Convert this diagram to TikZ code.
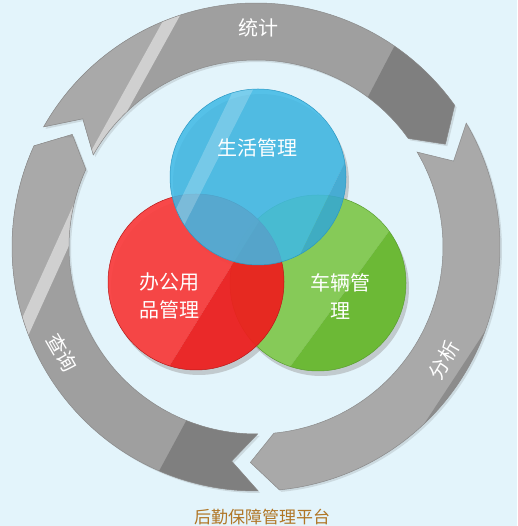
\documentclass[tikz,border=0pt]{standalone}
\usepackage{fontspec}
\newfontfamily\cjk{Noto Sans CJK SC}
\definecolor{bgc}{HTML}{E3F4FB}
\definecolor{gbase}{HTML}{9F9F9F}
\definecolor{glight}{HTML}{A9A9A9}
\definecolor{gstripe}{HTML}{D0D0D0}
\definecolor{gdark}{HTML}{7F7F7F}
\definecolor{gsliver}{HTML}{8C8C8C}
\definecolor{gline}{HTML}{8A8A8A}
\definecolor{blueL}{HTML}{3EB9E6}
\definecolor{blueD}{HTML}{34A8D4}
\definecolor{blueE}{HTML}{2A98C4}
\definecolor{redL}{HTML}{FA3C3C}
\definecolor{redD}{HTML}{EE1D1D}
\definecolor{redE}{HTML}{B81818}
\definecolor{greenL}{HTML}{86CA58}
\definecolor{greenD}{HTML}{6CB936}
\definecolor{greenE}{HTML}{5A9E30}
\definecolor{titlec}{RGB}{176,118,38}
\tikzset{
  ringseg/.style 2 args={shift={(256,279)}, insert path={(#1:244) arc[start angle=#1,end angle=#2,radius=244] -- ({#2-7}:215.5) -- (#2:187) arc[start angle=#2,end angle=#1,radius=187] -- ({#1-7}:215.5) -- cycle}},
  segline/.style={draw=gline, line width=0.5pt},
  segshadow/.style={fill=black!60, opacity=0.18},
  lbl/.style={text=white, font={\cjk\fontsize{20}{24}\selectfont}, inner sep=0pt},
  ctext/.style={text=white, font={\cjk\fontsize{20}{28}\selectfont}, inner sep=0pt, align=center},
  ttext/.style={text=titlec, font={\cjk\fontsize{17}{20}\selectfont}, inner sep=0pt},
  cshadow/.style={fill=black!40, opacity=0.45},
}
\begin{document}
\begin{tikzpicture}[x=1pt,y=1pt]
\useasboundingbox (0,0) rectangle (517,526);
\fill[bgc] (0,0) rectangle (517,526);

% ---- ring segment shadows
\begin{scope}[shift={(2,-2)}]
\fill[segshadow, ringseg={150.5}{35.5}];
\fill[segshadow, ringseg={30.5}{-84.5}];
\fill[segshadow, ringseg={270.5}{155.5}];
\end{scope}

% ---- top segment
\begin{scope}
\clip[ringseg={150.5}{35.5}];
\fill[gbase] (0,0) rectangle (517,526);
\fill[glight] (35.6,274.6) -- (192,557.5) -- (-10,557.5) -- (-10,274.6) -- cycle;
\fill[gstripe] (35.6,274.6) -- (192,557.5) -- (206,557.5) -- (49.6,274.6) -- cycle;
\fill[gdark] (320,337) -- (445,577) -- (600,577) -- (600,337) -- cycle;
\end{scope}
\draw[segline, ringseg={150.5}{35.5}];

% ---- right segment
\begin{scope}
\clip[ringseg={30.5}{-84.5}];
\fill[gbase!90!white] (0,0) rectangle (517,526);
\fill[gsliver] (359,3) -- (566,318) -- (600,318) -- (600,3) -- cycle;
\end{scope}
\draw[segline, ringseg={30.5}{-84.5}];

% ---- left segment
\begin{scope}
\clip[ringseg={270.5}{155.5}];
\fill[gbase] (0,0) rectangle (517,526);
\fill[glight] (-15,126) -- (104,388.5) -- (-50,388.5) -- (-50,126) -- cycle;
\fill[gstripe] (-15,126) -- (104,388.5) -- (118,388.5) -- (-1,126) -- cycle;
\fill[gdark] (131,3) -- (239,203) -- (400,203) -- (400,3) -- cycle;
\end{scope}
\draw[segline, ringseg={270.5}{155.5}];

% ---- circle shadows
\fill[cshadow] (321,238) circle (88);
\fill[cshadow] (199,239) circle (88);
\fill[cshadow] (261,344) circle (88);

% ---- green circle
\begin{scope}
\clip (318,243) circle (88);
\fill[greenL] (240,90.5) -- (440,364.5) -- (100,364.5) -- (100,90.5) -- cycle;
\fill[greenD] (240,90.5) -- (440,364.5) -- (520,364.5) -- (520,90.5) -- cycle;
\end{scope}
\draw[greenE, line width=0.5pt] (318,243) circle (88);

% ---- red circle
\begin{scope}
\clip (196,244) circle (88);
\fill[redL, opacity=0.93] (112,67) -- (292,358) -- (0,358) -- (0,67) -- cycle;
\fill[redD, opacity=0.93] (112,67) -- (292,358) -- (400,358) -- (400,67) -- cycle;
\end{scope}
\draw[redE, line width=0.5pt] (196,244) circle (88);

% ---- blue circle
\begin{scope}
\clip (258,349) circle (88);
\fill[blueL, opacity=0.86] (245,158) -- (395,467) -- (100,467) -- (100,158) -- cycle;
\fill[blueD, opacity=0.86] (245,158) -- (395,467) -- (500,467) -- (500,158) -- cycle;
\fill[white, opacity=0.22] (149.5,262) -- (248.5,467) -- (268.5,467) -- (164.5,262) -- cycle;
\end{scope}
\draw[blueE, line width=0.5pt] (258,349) circle (88);

% ---- texts
\node[lbl] (tj) at (258,498) {统计};
\node[lbl, rotate=60] (fx) at (444,166) {分析};
\node[lbl, rotate=-60] (cx) at (62,173) {查询};
\node[ctext] (sh) at (257,378) {生活管理};
\node[ctext] (bg) at (169,230) {办公用\\品管理};
\node[ctext] (cl) at (340,229) {车辆管\\理};
\node[ttext] (tt) at (262,9) {后勤保障管理平台};
\end{tikzpicture}
\end{document}
